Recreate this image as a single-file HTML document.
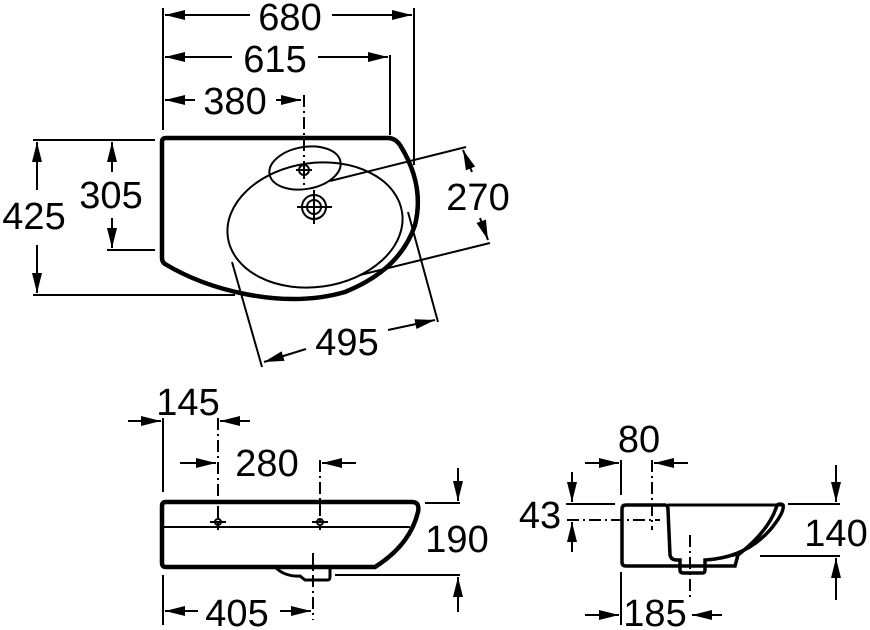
<!DOCTYPE html>
<html><head><meta charset="utf-8"><style>
html,body{margin:0;padding:0;background:#fff}
svg{display:block}
text{font-family:"Liberation Sans",Arial,sans-serif;font-size:38px;fill:#000}
</style></head><body>
<svg width="870" height="630" viewBox="0 0 870 630" xmlns="http://www.w3.org/2000/svg">
<defs>
<marker id="a" viewBox="0 0 20 10" refX="20" refY="5" markerWidth="20" markerHeight="10" markerUnits="userSpaceOnUse" orient="auto"><path d="M0,0 L20,5 L0,10 Z" fill="#000"/></marker>
</defs>
<g stroke="#000" stroke-width="2" fill="none">
<!-- top dims -->
<line x1="163" y1="8" x2="163" y2="130"/>
<line x1="414" y1="8" x2="414" y2="165"/>
<line x1="390" y1="55" x2="390" y2="135"/>
<line x1="250" y1="15" x2="165" y2="15" marker-end="url(#a)"/>
<line x1="332" y1="15" x2="412" y2="15" marker-end="url(#a)"/>
<line x1="232" y1="57" x2="165" y2="57" marker-end="url(#a)"/>
<line x1="318" y1="57" x2="388" y2="57" marker-end="url(#a)"/>
<line x1="195" y1="100" x2="165" y2="100" marker-end="url(#a)"/>
<line x1="276" y1="100" x2="301" y2="100" marker-end="url(#a)"/>
<line x1="304" y1="95" x2="304" y2="185" stroke-dasharray="12,4,2,4"/>
<!-- left dims -->
<line x1="33" y1="140" x2="155" y2="140"/>
<line x1="33" y1="295" x2="235" y2="295"/>
<line x1="107" y1="250" x2="155" y2="250"/>
<line x1="37" y1="190" x2="37" y2="142" marker-end="url(#a)"/>
<line x1="37" y1="245" x2="37" y2="293" marker-end="url(#a)"/>
<line x1="112" y1="172" x2="112" y2="142" marker-end="url(#a)"/>
<line x1="112" y1="218" x2="112" y2="248" marker-end="url(#a)"/>
<!-- top view outline -->
<path d="M166,138 L388,138 Q395,138 400,145 Q425,185 415,225 Q400,270 345,292 Q300,305 245,294 Q200,285 165,264 Q162,262 162,258 L162,142 Q162,138 166,138 Z" stroke-width="4.5"/>
<ellipse cx="315" cy="225" rx="88" ry="62" transform="rotate(-8 315 225)"/>
<ellipse cx="305" cy="168" rx="36" ry="21" transform="rotate(-10 305 168)"/>
<circle cx="304" cy="170" r="5"/>
<line x1="296" y1="170" x2="312" y2="170"/><line x1="304" y1="162" x2="304" y2="178"/>
<circle cx="314" cy="207" r="12"/><circle cx="314" cy="207" r="7"/>
<line x1="297" y1="207" x2="332" y2="207"/><line x1="314" y1="190" x2="314" y2="224"/>
<!-- 270 -->
<line x1="330" y1="181" x2="466" y2="147"/>
<line x1="360" y1="275" x2="490" y2="243"/>
<line x1="472" y1="172" x2="463" y2="150" marker-end="url(#a)"/>
<line x1="480" y1="218" x2="488" y2="240" marker-end="url(#a)"/>
<!-- 495 -->
<line x1="232" y1="262" x2="262" y2="367"/>
<line x1="408" y1="212" x2="438" y2="322"/>
<line x1="306" y1="349" x2="264" y2="362" marker-end="url(#a)"/>
<line x1="388" y1="330" x2="435" y2="320" marker-end="url(#a)"/>
<!-- front view -->
<line x1="163" y1="418" x2="163" y2="492"/>
<line x1="218" y1="418" x2="218" y2="530" stroke-dasharray="12,4,2,4"/>
<line x1="320" y1="460" x2="320" y2="530" stroke-dasharray="12,4,2,4"/>
<line x1="313" y1="553" x2="313" y2="620" stroke-dasharray="12,4,2,4"/>
<line x1="128" y1="421" x2="161" y2="421" marker-end="url(#a)"/>
<line x1="250" y1="421" x2="220" y2="421" marker-end="url(#a)"/>
<line x1="180" y1="463" x2="216" y2="463" marker-end="url(#a)"/>
<line x1="356" y1="463" x2="322" y2="463" marker-end="url(#a)"/>
<line x1="163" y1="575" x2="163" y2="625"/>
<line x1="198" y1="611" x2="165" y2="611" marker-end="url(#a)"/>
<line x1="280" y1="611" x2="311" y2="611" marker-end="url(#a)"/>
<path d="M166,502 L412,502 Q420,502 418,512 Q410,545 375,567 L166,567 Q162,567 162,563 L162,506 Q162,502 166,502 Z" stroke-width="4.5"/>
<line x1="163" y1="527" x2="410" y2="527"/>
<path d="M275,567 Q285,577 300,576 L305,580 L328,580 Q330,580 330,576 L330,567" stroke-width="3"/>
<circle cx="218" cy="522" r="3"/><line x1="210" y1="522" x2="226" y2="522"/>
<circle cx="320" cy="522" r="3"/><line x1="312" y1="522" x2="328" y2="522"/>
<line x1="425" y1="503" x2="460" y2="503"/>
<line x1="335" y1="575" x2="460" y2="575"/>
<line x1="458" y1="468" x2="458" y2="501" marker-end="url(#a)"/>
<line x1="458" y1="612" x2="458" y2="577" marker-end="url(#a)"/>
<!-- side view -->
<line x1="566" y1="504" x2="615" y2="504"/>
<line x1="567" y1="520" x2="660" y2="520" stroke-dasharray="12,4,2,4"/>
<line x1="572" y1="472" x2="572" y2="502" marker-end="url(#a)"/>
<line x1="572" y1="552" x2="572" y2="522" marker-end="url(#a)"/>
<line x1="621" y1="460" x2="621" y2="495"/>
<line x1="652" y1="460" x2="652" y2="530" stroke-dasharray="12,4,2,4"/>
<line x1="585" y1="463" x2="619" y2="463" marker-end="url(#a)"/>
<line x1="688" y1="463" x2="654" y2="463" marker-end="url(#a)"/>
<line x1="788" y1="504" x2="840" y2="504"/>
<line x1="760" y1="556" x2="840" y2="556"/>
<line x1="836" y1="465" x2="836" y2="502" marker-end="url(#a)"/>
<line x1="836" y1="600" x2="836" y2="558" marker-end="url(#a)"/>
<line x1="621" y1="572" x2="621" y2="625"/>
<line x1="690" y1="535" x2="690" y2="600" stroke-dasharray="12,4,2,4"/>
<line x1="585" y1="615" x2="619" y2="615" marker-end="url(#a)"/>
<line x1="722" y1="615" x2="692" y2="615" marker-end="url(#a)"/>
<path d="M626,505 L665,505 Q668,505 668,510 L670,555 Q671,560 677,560 L680,560 L680,570 Q680,573 684,573 L702,573 Q705,573 705,570 L705,560 Q745,558 770,530 Q785,512 783,505 Q781,503 777,505 Q770,530 738,555 L735,566 L626,566 Q622,566 622,562 L622,509 Q622,505 626,505 Z" stroke-width="3.5"/>
<path d="M668,505 L783,505" stroke-width="3"/>
<line x1="738" y1="555" x2="705" y2="560"/>
</g>
<text x="290" y="30" text-anchor="middle">680</text>
<text x="275" y="72" text-anchor="middle">615</text>
<text x="235" y="114" text-anchor="middle">380</text>
<text x="34" y="229" text-anchor="middle">425</text>
<text x="111" y="208" text-anchor="middle">305</text>
<text x="478" y="210" text-anchor="middle">270</text>
<text x="347" y="355" text-anchor="middle">495</text>
<text x="188" y="415" text-anchor="middle">145</text>
<text x="267" y="476" text-anchor="middle">280</text>
<text x="237" y="626" text-anchor="middle">405</text>
<text x="457" y="552" text-anchor="middle">190</text>
<text x="540" y="528" text-anchor="middle">43</text>
<text x="639" y="452" text-anchor="middle">80</text>
<text x="836" y="546" text-anchor="middle">140</text>
<text x="655" y="626" text-anchor="middle">185</text>
</svg>
</body></html>
